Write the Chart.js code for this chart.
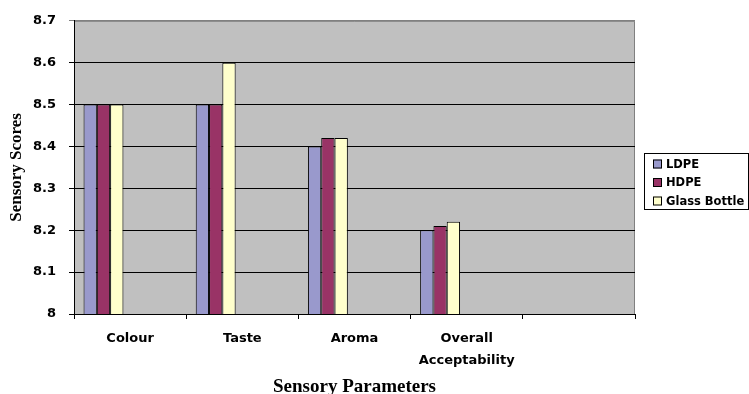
<!DOCTYPE html>
<html lang="en">
  <head>
    <meta charset="utf-8" />
    <title>Sensory scores</title>
    <style>
      * {
        margin: 0;
        padding: 0;
      }
      body {
        background: white;
      }
      .chartBox {
        width: 749px;
        height: 394px;
      }
    </style>
  </head>
  <body>
    <div class="chartBox">
      <canvas id="myChart" width="749" height="394"></canvas>
    </div>

    <script src="https://cdn.jsdelivr.net/npm/chart.js"></script>

    <script>
      const categories = ["Colour", "Taste", "Aroma", ["Overall", "Acceptability"], ""];
      const ldpe = [8.5, 8.5, 8.4, 8.2, null];
      const hdpe = [8.5, 8.5, 8.42, 8.21, null];
      const glassBottle = [8.5, 8.6, 8.42, 8.22, null];
      // the source sheet has extra empty series, they keep the clusters left of centre
      const emptySeries = [null, null, null, null, null];
      const yTicks = [8, 8.1, 8.2, 8.3, 8.4, 8.5, 8.6, 8.7];

      const series = [
        { label: "LDPE", data: ldpe, color: "#9999CC" },
        { label: "HDPE", data: hdpe, color: "#993366" },
        { label: "Glass Bottle", data: glassBottle, color: "#FFFFCC" },
      ];

      const datasets = series.map((s) => ({
        label: s.label,
        data: s.data,
        backgroundColor: s.color,
        borderColor: "#000000",
        borderWidth: 1,
        borderSkipped: false,
      }));
      for (let i = 0; i < 4; i++) {
        datasets.push({ label: "", data: emptySeries, inLegend: false });
      }

      const plotBackground = {
        id: "plotBackground",
        beforeDraw(chart) {
          const { ctx, chartArea: a } = chart;
          ctx.save();
          ctx.fillStyle = "#C0C0C0";
          ctx.fillRect(a.left, a.top, a.right - a.left, a.bottom - a.top);
          ctx.strokeStyle = "#808080";
          ctx.lineWidth = 1;
          ctx.beginPath();
          ctx.moveTo(a.left, a.top + 0.5);
          ctx.lineTo(a.right - 0.5, a.top + 0.5);
          ctx.lineTo(a.right - 0.5, a.bottom);
          ctx.stroke();
          ctx.restore();
        },
      };

      const boxLegend = {
        id: "boxLegend",
        afterDraw(chart, args, opts) {
          const { ctx } = chart;
          const items = chart.data.datasets.filter((d) => d.inLegend !== false);
          ctx.save();
          ctx.fillStyle = "white";
          ctx.fillRect(opts.x, opts.y, opts.w, opts.h);
          ctx.strokeStyle = "#000";
          ctx.lineWidth = 1;
          ctx.strokeRect(opts.x + 0.5, opts.y + 0.5, opts.w - 1, opts.h - 1);
          ctx.font = "bold 11.5px 'DejaVu Sans'";
          ctx.textBaseline = "middle";
          items.forEach((d, i) => {
            const cy = opts.y + 11 + i * 18.5;
            ctx.fillStyle = d.backgroundColor;
            ctx.fillRect(opts.x + 9, cy - 4.5, 9, 9);
            ctx.strokeRect(opts.x + 9.5, cy - 4, 8, 8);
            ctx.fillStyle = "#000";
            ctx.fillText(d.label, opts.x + 22, cy + 1);
          });
          ctx.restore();
        },
      };

      const config = {
        type: "bar",
        data: { labels: categories, datasets: datasets },
        options: {
          responsive: false,
          animation: false,
          devicePixelRatio: 1,
          layout: { padding: { top: 19, right: 114, left: 0, bottom: 0 } },
          datasets: {
            bar: { categoryPercentage: 0.83, barPercentage: 1 },
          },
          plugins: {
            legend: { display: false },
            tooltip: { enabled: false },
            boxLegend: { x: 644, y: 153, w: 105, h: 57 },
          },
          scales: {
            x: {
              afterFit: (scale) => {
                scale.height = 80;
              },
              border: { color: "#000", width: 1 },
              grid: {
                offset: true,
                drawOnChartArea: false,
                color: "#000",
                tickLength: 5,
              },
              ticks: {
                color: "#000",
                padding: 9,
                maxRotation: 0,
                font: { family: "DejaVu Sans", weight: "bold", size: 13, lineHeight: 1.65 },
              },
              title: {
                display: true,
                text: "Sensory Parameters",
                color: "#000",
                padding: { top: 0, bottom: -3 },
                font: { family: "Liberation Serif", weight: "bold", size: 19, lineHeight: 1 },
              },
            },
            y: {
              min: yTicks[0],
              max: yTicks[yTicks.length - 1],
              afterFit: (scale) => {
                scale.width = 74;
              },
              afterBuildTicks: (scale) => {
                scale.ticks = yTicks.map((v) => ({ value: v }));
              },
              border: { color: "#000", width: 1 },
              grid: {
                color: (c) => (c.tick && c.tick.value > 8.65 ? "#808080" : "#000"),
                tickLength: 5,
              },
              ticks: {
                color: "#000",
                padding: 13,
                font: { family: "DejaVu Sans", weight: "bold", size: 13 },
                callback: (v) => String(Number(v.toFixed(1))),
              },
              title: {
                display: true,
                text: "Sensory Scores",
                color: "#000",
                padding: { top: 6, bottom: 0 },
                font: { family: "Liberation Serif", weight: "bold", size: 17, lineHeight: 1.2 },
              },
            },
          },
        },
        plugins: [plotBackground, boxLegend],
      };

      const myChart = new Chart(document.getElementById("myChart"), config);
    </script>
  </body>
</html>
